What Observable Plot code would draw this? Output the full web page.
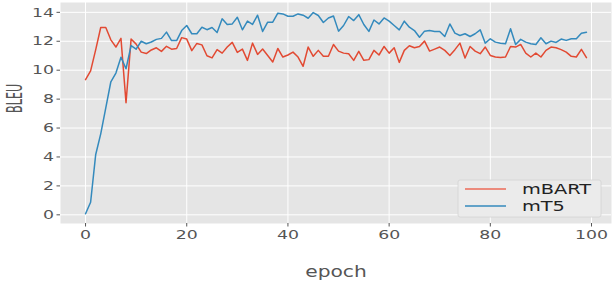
<!DOCTYPE html>
<html>
<head>
<meta charset="utf-8">
<script src="https://cdn.jsdelivr.net/npm/d3@7"></script>
<script src="https://cdn.jsdelivr.net/npm/@observablehq/plot@0.6"></script>
<style>
  html, body { margin: 0; padding: 0; background: white; }
</style>
</head>
<body>
<div id="chart"></div>
<script>
const seriesNames = ["mBART", "mT5"];
const seriesColors = ["#E24A33", "#348ABD"];
const xTicks = [0, 20, 40, 60, 80, 100];
const yTicks = [0, 2, 4, 6, 8, 10, 12, 14];
const xLabel = "epoch";
const yLabel = "BLEU";

const mbart = [
  9.35, 9.95, 11.4, 12.95, 12.95, 12.1, 11.6, 12.2, 7.75, 12.15,
  11.8, 11.25, 11.15, 11.4, 11.55, 11.3, 11.65, 11.45, 11.5, 12.25,
  12.15, 11.35, 11.85, 11.75, 11.0, 10.85, 11.42, 11.18, 11.6, 11.92,
  11.23, 11.46, 10.68, 11.87, 11.09, 11.46, 11.02, 10.57, 11.5, 10.91,
  11.05, 11.25, 10.91, 10.27, 11.6, 10.96, 11.37, 10.96, 10.96, 11.78,
  11.32, 11.18, 11.14, 10.68, 11.3, 10.68, 10.73, 11.37, 11.05, 11.64,
  11.18, 11.55, 10.54, 11.37, 11.69, 11.55, 11.64, 12.01, 11.32, 11.46,
  11.6, 11.37, 11.02, 11.42, 11.87, 10.84, 11.64, 11.32, 11.14, 11.6,
  11.02, 10.91, 10.87, 10.91, 11.64, 11.6, 11.78, 11.18, 10.91, 11.18,
  10.91, 11.37, 11.6, 11.55, 11.42, 11.25, 10.96, 10.91, 11.44, 10.87
];
const mt5 = [
  0.07, 0.87, 4.15, 5.6, 7.4, 9.2, 9.8, 10.9, 10.1, 11.7,
  11.45, 12.0, 11.83, 11.95, 12.13, 12.2, 12.63, 12.05, 12.05, 12.74,
  13.09, 12.52, 12.52, 12.97, 12.8, 12.95, 12.6, 13.55, 13.16, 13.2,
  13.66, 12.79, 13.39, 13.16, 13.8, 12.68, 13.32, 13.32, 13.94, 13.89,
  13.73, 13.73, 13.89, 13.8, 13.59, 13.98, 13.78, 13.3, 13.61, 13.75,
  12.7, 13.09, 13.71, 13.43, 13.84, 13.16, 12.68, 13.47, 13.2, 13.61,
  13.39, 13.09, 12.79, 13.39, 12.97, 12.74, 12.28, 12.7, 12.74, 12.68,
  12.68, 12.33, 13.2, 12.56, 12.4, 12.52, 12.33, 12.52, 12.79, 11.87,
  12.17, 11.94, 11.87, 11.83, 12.86, 11.78, 12.13, 11.94, 11.83, 11.78,
  12.24, 11.83, 12.01, 11.92, 12.15, 12.06, 12.17, 12.17, 12.56, 12.63
];

const rowsOf = (vals, name) => vals.map((v, i) => ({epoch: i, bleu: v, model: name}));
const data = [...rowsOf(mbart, seriesNames[0]), ...rowsOf(mt5, seriesNames[1])];

const chart = Plot.plot({
  width: 612,
  height: 288,
  marginLeft: 60,
  marginRight: 1,
  marginTop: 2,
  marginBottom: 65,
  style: {fontFamily: "DejaVu Sans", background: "white", color: "#555"},
  x: {domain: [-4.95, 103.95]},
  y: {domain: [-0.6, 14.68]},
  color: {domain: seriesNames, range: seriesColors},
  marks: [
    Plot.frame({fill: "#E5E5E5", stroke: null}),
    Plot.gridX(xTicks, {stroke: "white", strokeOpacity: 1, strokeWidth: 1}),
    Plot.gridY(yTicks, {stroke: "white", strokeOpacity: 1, strokeWidth: 1}),
    Plot.axisX(xTicks, {tickSize: 3.5, tickPadding: 2.5, fontSize: 13, stroke: "#555", fill: "#555", label: null}),
    Plot.axisY(yTicks, {tickSize: 3.5, tickPadding: 3, fontSize: 13, stroke: "#555", fill: "#555", label: null}),
    Plot.lineY(data.filter(d => d.model === seriesNames[0]), {x: "epoch", y: "bleu", stroke: seriesColors[0], strokeWidth: 1.5}),
    Plot.lineY(data.filter(d => d.model === seriesNames[1]), {x: "epoch", y: "bleu", stroke: seriesColors[1], strokeWidth: 1.5}),
    Plot.text([xLabel], {frameAnchor: "bottom", dy: 49, fontSize: 15, fill: "#555", lineAnchor: "middle"}),
    Plot.text([yLabel], {frameAnchor: "left", dx: -45, rotate: -90, fontSize: 14, fill: "#555", lineAnchor: "middle"})
  ]
});

document.getElementById("chart").appendChild(chart);

// horizontal stretch of texts to match the reference's wide rendering
chart.querySelectorAll("text").forEach(t => {
  const tr = t.getAttribute("transform") || "";
  if (t.textContent === yLabel) {
    t.setAttribute("transform", tr.replace(/rotate\(-90\)/, "scale(1.47,0.8) rotate(-90)"));
  } else if (t.textContent === xLabel) {
    t.setAttribute("transform", tr + " scale(1.35,1)");
  } else {
    t.setAttribute("transform", tr + " scale(1.33,1)");
  }
});

// legend
const svg = d3.select(chart);
const lg = svg.append("g").attr("text-anchor", "start");
lg.append("rect")
  .attr("x", 458).attr("y", 180).attr("width", 143).attr("height", 37)
  .attr("rx", 2).attr("fill", "#EBEBEB").attr("stroke", "#D3D3D3").attr("stroke-width", 0.8);
const legendLine = ["#EC8B7D", seriesColors[1]];
const legendW = [2.2, 1.5];
const legendY = [189, 206];
seriesNames.forEach((name, i) => {
  lg.append("line")
    .attr("x1", 465).attr("x2", 506).attr("y1", legendY[i]).attr("y2", legendY[i])
    .attr("stroke", legendLine[i]).attr("stroke-width", legendW[i]);
  lg.append("text")
    .attr("transform", `translate(522,${legendY[i] + 4.8}) scale(1.38,1)`)
    .attr("text-anchor", "start")
    .attr("font-family", "DejaVu Sans").attr("font-size", 14).attr("fill", "#222")
    .text(name);
});
</script>
</body>
</html>
